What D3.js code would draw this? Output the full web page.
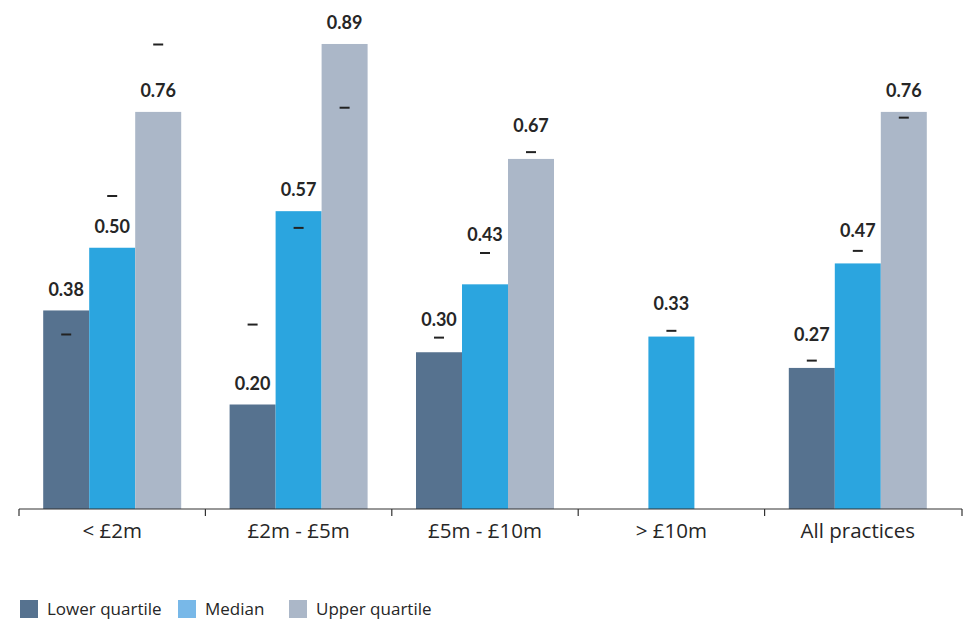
<!DOCTYPE html>
<html>
<head>
<meta charset="utf-8">
<script src="https://cdn.jsdelivr.net/npm/d3@7"></script>
<style>
  body { margin: 0; background: #fff; }
  svg text { font-family: Lato, "Open Sans", sans-serif; }
  svg text.cat, svg text.leg { font-family: "Open Sans", sans-serif; }
</style>
</head>
<body>
<script>
// categories and series
const categories = ["< £2m", "£2m - £5m", "£5m - £10m", "> £10m", "All practices"];
const seriesNames = ["Lower quartile", "Median", "Upper quartile"];

// bar values (null = no bar)
const lowerQuartile = [0.38, 0.20, 0.30, null, 0.27];
const median = [0.50, 0.57, 0.43, 0.33, 0.47];
const upperQuartile = [0.76, 0.89, 0.67, null, 0.76];

// small dash markers (earlier figures)
const lowerMarker = [0.334, 0.353, 0.328, null, 0.284];
const medianMarker = [0.599, 0.538, 0.49, 0.341, 0.494];
const upperMarker = [0.889, 0.768, 0.683, null, 0.749];

const colors = ["#56728f", "#2ba5df", "#abb7c8"];
const legendColors = ["#56728f", "#78b8e8", "#abb7c8"];

const width = 964, height = 623;
const baseline = 509;

const svg = d3.select("body").append("svg")
    .attr("width", width)
    .attr("height", height);

const x = d3.scaleBand()
    .domain(categories)
    .range([19, 951]);

const groupWidth = 138;
const xInner = d3.scaleBand()
    .domain(seriesNames)
    .range([0, groupWidth]);

const y = d3.scaleLinear()
    .domain([0, 1])
    .range([baseline, baseline - 522.5]);

// flatten into rows
const values = [lowerQuartile, median, upperQuartile];
const markers = [lowerMarker, medianMarker, upperMarker];
const rows = [];
categories.forEach((c, i) => {
    seriesNames.forEach((s, j) => {
        rows.push({cat: c, series: s, idx: j, value: values[j][i], marker: markers[j][i]});
    });
});

const groups = svg.append("g");

const bx = d => x(d.cat) + x.bandwidth() / 2 - groupWidth / 2 + xInner(d.series);

// bars
groups.selectAll("rect.bar")
    .data(rows.filter(d => d.value != null))
    .join("rect")
    .attr("class", "bar")
    .attr("x", d => bx(d))
    .attr("width", xInner.bandwidth())
    .attr("y", d => y(d.value))
    .attr("height", d => baseline - y(d.value))
    .attr("fill", d => colors[d.idx]);

// dash markers
groups.selectAll("line.marker")
    .data(rows.filter(d => d.marker != null))
    .join("line")
    .attr("class", "marker")
    .attr("x1", d => bx(d) + xInner.bandwidth() / 2 - 5)
    .attr("x2", d => bx(d) + xInner.bandwidth() / 2 + 5)
    .attr("y1", d => y(d.marker))
    .attr("y2", d => y(d.marker))
    .attr("stroke", "#222")
    .attr("stroke-width", 2);

// value labels: above the bar, pushed up when the dash sits just over the bar
function labelY(d) {
    const top = y(d.value);
    if (d.marker != null) {
        const m = y(d.marker);
        if (m < top && top - m < 40) return Math.min(top - 33, m - 18);
    }
    return top - 21;
}

groups.selectAll("text.value")
    .data(rows.filter(d => d.value != null))
    .join("text")
    .attr("class", "value")
    .attr("x", d => bx(d) + xInner.bandwidth() / 2)
    .attr("y", d => labelY(d))
    .attr("dy", "0.35em")
    .attr("text-anchor", "middle")
    .attr("font-size", 18)
    .attr("font-weight", "bold")
    .attr("fill", "#262626")
    .text(d => d3.format(".2f")(d.value));

// x axis
const axis = svg.append("g")
    .attr("transform", `translate(0,${baseline})`);

axis.append("line")
    .attr("x1", 19).attr("x2", 962)
    .attr("stroke", "#333").attr("stroke-width", 1.2);

const boundaries = categories.map(c => x(c)).concat([962]);
axis.selectAll("line.tick")
    .data(boundaries)
    .join("line")
    .attr("class", "tick")
    .attr("x1", d => d).attr("x2", d => d)
    .attr("y1", 0).attr("y2", 7)
    .attr("stroke", "#333").attr("stroke-width", 1.2);

axis.selectAll("text.cat")
    .data(categories)
    .join("text")
    .attr("class", "cat")
    .attr("x", d => x(d) + x.bandwidth() / 2)
    .attr("y", 22)
    .attr("dy", "0.35em")
    .attr("text-anchor", "middle")
    .attr("font-size", 20.5)
    .attr("fill", "#262626")
    .text(d => d);

// legend
const legendX = [20, 178, 289];
const legend = svg.append("g")
    .attr("transform", "translate(0,600)");

legend.selectAll("rect")
    .data(seriesNames)
    .join("rect")
    .attr("x", (d, i) => legendX[i])
    .attr("y", 0)
    .attr("width", 18)
    .attr("height", 18)
    .attr("fill", (d, i) => legendColors[i]);

legend.selectAll("text.leg")
    .data(seriesNames)
    .join("text")
    .attr("class", "leg")
    .attr("x", (d, i) => legendX[i] + 27)
    .attr("y", 9)
    .attr("dy", "0.35em")
    .attr("font-size", 17)
    .attr("fill", "#262626")
    .text(d => d);
</script>
</body>
</html>
